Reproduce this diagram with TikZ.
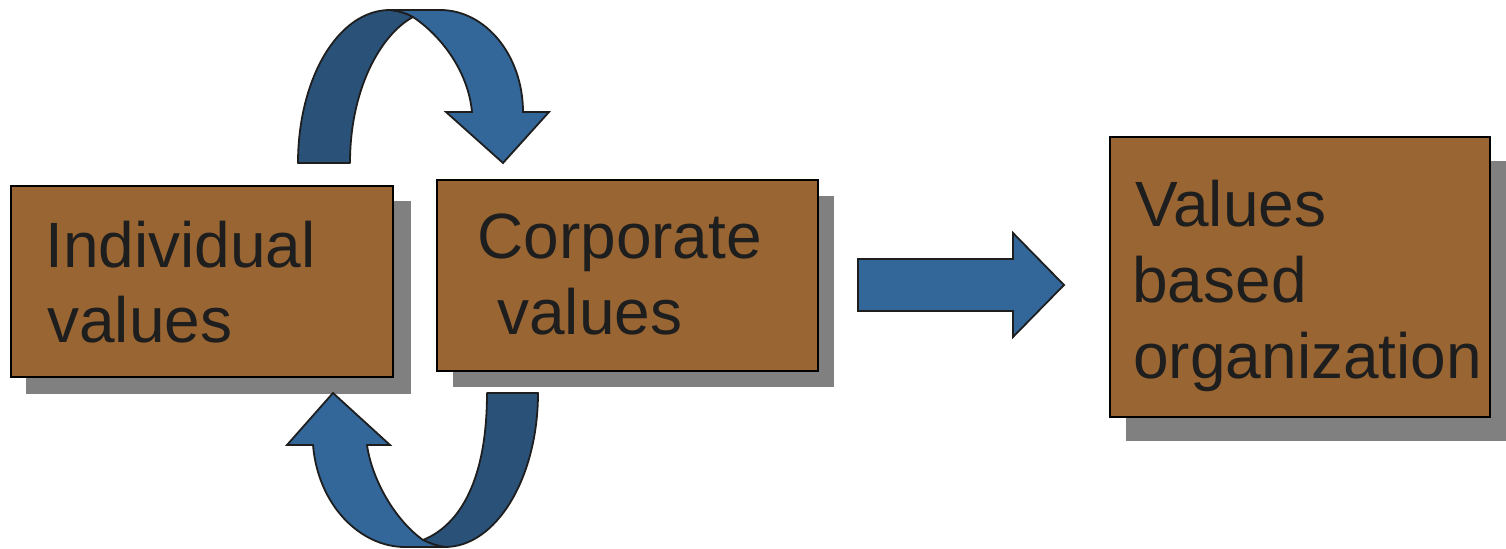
\documentclass[tikz,border=0pt]{standalone}
\usepackage{fontspec}
\setmainfont{Liberation Sans}
\definecolor{boxbrown}{HTML}{996633}
\definecolor{arrowblue}{HTML}{336699}
\definecolor{arrowdark}{HTML}{2A5279}
\definecolor{shadowgray}{HTML}{808080}
\definecolor{textgray}{HTML}{1E1E1E}
\tikzset{
  box/.style={draw=black, line width=1.1pt, fill=boxbrown, inner sep=0pt},
  boxshadow/.style={fill=shadowgray},
  label/.style={anchor=base west, inner sep=0pt, text=textgray, font=\fontsize{32}{37}\selectfont},
  blockarrow/.style={fill=arrowblue, draw=textgray, line width=0.9pt, line join=miter},
  blockdark/.style={fill=arrowdark, draw=textgray, line width=0.9pt, line join=round},
}
\begin{document}
\begin{tikzpicture}[x=0.5pt, y=-0.5pt]
\useasboundingbox (0,0) rectangle (1506,549);

% shadows
\fill[boxshadow] (26,201) rectangle (411,394);
\fill[boxshadow] (453,196) rectangle (834,387);
\fill[boxshadow] (1126,161) rectangle (1506,441);

% boxes
\node[box, minimum width=191pt, minimum height=95.5pt] (b1) at (202,281.5) {};
\node[box, minimum width=190.5pt, minimum height=95.5pt] (b2) at (627.5,275.5) {};
\node[box, minimum width=190pt, minimum height=140pt] (b3) at (1300,277) {};

% texts
\node[label] (t1a) at (45,268) {Individual};
\node[label] (t1b) at (47,343) {values};
\node[label] (t2a) at (477,259) {Corporate};
\node[label] (t2b) at (497,335) {values};
\node[label] (t3a) at (1135,227) {Values};
\node[label] (t3b) at (1132,303) {based};
\node[label] (t3c) at (1133,379) {organization};

% right block arrow
\draw[blockarrow] (858,259) -- (1013,259) -- (1013,233) -- (1064,285)
  -- (1013,337) -- (1013,311) -- (858,311) -- cycle;

% top curved arrow: dark back band
\draw[blockdark] (298,163) .. controls (298,79) and (338,10) .. (390,10)
  .. controls (400,11) and (408,14) .. (413,17)
  .. controls (380,35) and (350,90) .. (350,163) -- cycle;
% top curved arrow: light front band with head
\draw[blockarrow] (390,10) -- (440,10)
  .. controls (486,10) and (523,56) .. (523,112)
  -- (549,112) -- (503,163) -- (446,112) -- (472,112)
  .. controls (468,70) and (440,35) .. (413,17)
  .. controls (408,14) and (400,11) .. (390,10) -- cycle;

% bottom curved arrow: dark back band
\draw[blockdark] (487,393) -- (538,393)
  .. controls (538,478) and (496,547) .. (445,547)
  .. controls (437,546) and (429,543) .. (423,540)
  .. controls (460,525) and (487,480) .. (487,393) -- cycle;
% bottom curved arrow: light front band with head
\draw[blockarrow] (333,393) -- (390,445) -- (367,445)
  .. controls (372,480) and (395,520) .. (423,540)
  .. controls (429,543) and (437,546) .. (445,547)
  -- (405,547)
  .. controls (360,547) and (318,505) .. (313,445)
  -- (287,445) -- cycle;
\end{tikzpicture}
\end{document}
